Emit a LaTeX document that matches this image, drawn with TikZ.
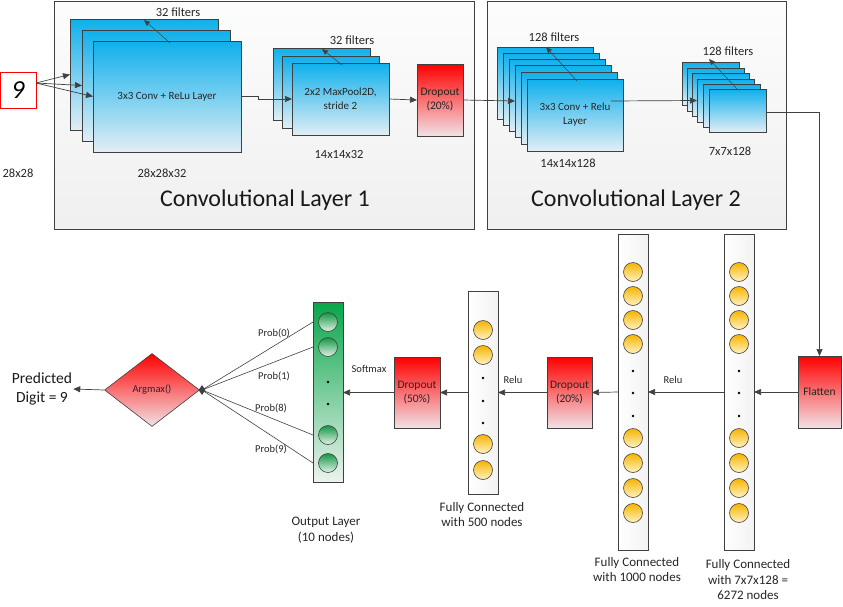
\documentclass[tikz,border=0pt]{standalone}
\usepackage{fontspec}
\setmainfont{Carlito}
\usetikzlibrary{arrows.meta,shapes.geometric,calc}
\definecolor{fmtop}{RGB}{14,176,236}
\definecolor{fmbot}{RGB}{226,238,245}
\definecolor{rdtop}{RGB}{255,0,0}
\definecolor{rdbot}{RGB}{242,226,230}
\definecolor{ortop}{RGB}{246,180,0}
\definecolor{orbot}{RGB}{255,243,195}
\definecolor{grtop}{RGB}{8,166,74}
\definecolor{grbot}{RGB}{236,243,238}
\definecolor{grctop}{RGB}{20,150,70}
\definecolor{grcbot}{RGB}{225,242,230}
\definecolor{edge}{RGB}{64,64,64}
\begin{document}
\begin{tikzpicture}[x=1pt,y=-1pt,
  box/.style={anchor=north west, inner sep=0pt, outer sep=0pt, line width=0.8pt, draw=edge},
  layerbox/.style={box, top color=gray!2, bottom color=gray!12},
  fmap/.style={box, top color=fmtop, bottom color=fmbot, align=center, font={\fontsize{11}{14}\selectfont}, text=black!85},
  redbox/.style={box, top color=rdtop, bottom color=rdbot, align=center, font={\fontsize{11.5}{14}\selectfont}, text=black!85},
  column/.style={box, left color=white, right color=gray!10},
  outcol/.style={box, top color=grtop, bottom color=grbot},
  neuron/.style={circle, draw=edge, line width=0.6pt, minimum size=19pt, inner sep=0pt, top color=ortop, bottom color=orbot},
  gneuron/.style={circle, draw=edge, line width=0.6pt, minimum size=19pt, inner sep=0pt, top color=grctop, bottom color=grcbot},
  dotn/.style={circle, fill=black, minimum size=2.6pt, inner sep=0pt},
  lbl/.style={font={\fontsize{12.5}{15}\selectfont}, text=black!85},
  small/.style={font={\fontsize{10.5}{12}\selectfont}, text=black!85},
  captext/.style={font={\fontsize{13}{15.5}\selectfont}, align=center, text=black!85},
  big/.style={font={\fontsize{24}{28}\selectfont}, text=black!90},
  conn/.style={draw=edge, line width=0.7pt, -{Triangle[length=7pt,width=6pt]}},
  thinarr/.style={draw=edge, line width=0.5pt, -{Triangle[length=6pt,width=5pt]}},
  plain/.style={draw=edge, line width=0.6pt}]
\useasboundingbox (0,0) rectangle (843,606);

% layer boxes
\node[layerbox, minimum width=420pt, minimum height=228pt] (L1) at (54,1) {};
\node[layerbox, minimum width=299pt, minimum height=228pt] (L2) at (487,1) {};
\node[big] (L1t) at (265,200) {Convolutional Layer 1};
\node[big] (L2t) at (636,200) {Convolutional Layer 2};

% input
\node[box, draw=red, fill=white, minimum width=36pt, minimum height=36pt] (in) at (0,72)
  {\fontsize{26}{26}\selectfont\itshape 9};
\node[lbl] (inl) at (18,173) {28x28};

% conv 1
\node[fmap, minimum width=148pt, minimum height=111pt] (c1a) at (70,19) {};
\node[fmap, minimum width=148pt, minimum height=111pt] (c1b) at (82,30) {};
\node[fmap, minimum width=148pt, minimum height=111pt] (c1c) at (93,41) {3x3 Conv + ReLu Layer};
\node[lbl] (c1f) at (178,12) {32 filters};
\node[lbl] (c1d) at (162,173) {28x28x32};
\coordinate (c1s) at (170,43);
\coordinate (c1e) at (144,20);
\draw[thinarr] (c1s) -- (c1e);

% pool 1
\node[fmap, minimum width=97pt, minimum height=72pt] (p1a) at (273,48) {};
\node[fmap, minimum width=97pt, minimum height=72pt] (p1b) at (282,56) {};
\node[fmap, minimum width=97pt, minimum height=72pt] (p1c) at (292,63) {2x2 MaxPool2D,\\stride 2};
\node[lbl] (p1f) at (352,40) {32 filters};
\node[lbl] (p1d) at (339,154) {14x14x32};
\coordinate (p1s) at (342,65);
\coordinate (p1e) at (322,49);
\draw[thinarr] (p1s) -- (p1e);

% dropout 1
\node[redbox, minimum width=46pt, minimum height=72pt] (d1) at (417,64) {Dropout\\(20\%)};

% conv 2
\foreach \n/\x/\y in {c2a/497/47, c2b/503/53, c2c/509/59, c2d/515/65, c2e/521/72}
  \node[fmap, minimum width=96pt, minimum height=72pt] (\n) at (\x,\y) {};
\node[fmap, minimum width=96pt, minimum height=72pt] (c2f) at (527,79) {3x3 Conv + Relu\\Layer};
\node[lbl] (c2l) at (554,37) {128 filters};
\node[lbl] (c2d2) at (568,163) {14x14x128};
\coordinate (c2s) at (577,81);
\coordinate (c2e2) at (546,47);
\draw[thinarr] (c2s) -- (c2e2);

% pool 2
\foreach \n/\x/\y in {p2a/682/62, p2b/687/68, p2c/692/73, p2d/697/79, p2e/703/84, p2f/709/89}
  \node[fmap, minimum width=57pt, minimum height=43pt] (\n) at (\x,\y) {};
\node[lbl] (p2l) at (728,51) {128 filters};
\node[lbl] (p2d2) at (730,151) {7x7x128};
\coordinate (p2s) at (738,90);
\coordinate (p2e2) at (709,59);
\draw[thinarr] (p2s) -- (p2e2);

% top connectors
\draw[conn] ([yshift=7pt]in.east) -- (c1a.west);
\draw[conn] ([yshift=7pt]in.east) -- (c1b.west);
\draw[conn] ([yshift=7pt]in.east) -- (c1c.west);
\draw[conn] (c1c.east) -- ++(17,0) |- (p1c.west);
\draw[conn] (p1c.east) -- (d1.west);
\draw[conn] (d1.east) -- (c2d.west);
\draw[conn] (c2d.east) -- (p2d.west);

% flatten
\node[redbox, minimum width=43pt, minimum height=72pt] (flat) at (798,356) {Flatten};
\draw[conn] ([yshift=-1.5pt]p2f.east) -| (flat.north);

% FC 6272
\node[column, minimum width=30pt, minimum height=316pt] (fcA) at (724,234) {};
\foreach \y [count=\i] in {272,296,320,344,438,463,488,513}
  \node[neuron] (a\i) at (739,\y) {};
\foreach \y [count=\i] in {371,393,416}
  \node[dotn] (ad\i) at (739,\y) {};
\node[captext] (fcAl) at (748,580) {Fully Connected\\with 7x7x128 =\\6272 nodes};

% FC 1000
\node[column, minimum width=30pt, minimum height=316pt] (fcB) at (618,234) {};
\foreach \y [count=\i] in {272,296,320,344,438,463,488,513}
  \node[neuron] (b\i) at (633,\y) {};
\foreach \y [count=\i] in {371,393,416}
  \node[dotn] (bd\i) at (633,\y) {};
\node[captext] (fcBl) at (637,569.5) {Fully Connected\\with 1000 nodes};

% dropout 20
\node[redbox, minimum width=45pt, minimum height=71pt] (d2) at (547,357) {Dropout\\(20\%)};

% FC 500
\node[column, minimum width=30pt, minimum height=203pt] (fcC) at (468,291) {};
\foreach \y [count=\i] in {330,355,444,470}
  \node[neuron] (c\i) at (483,\y) {};
\foreach \y [count=\i] in {378,401,423}
  \node[dotn] (cd\i) at (483,\y) {};
\node[captext] (fcCl) at (482,514.5) {Fully Connected\\with 500 nodes};

% dropout 50
\node[redbox, minimum width=46pt, minimum height=71pt] (d3) at (394,357) {Dropout\\(50\%)};

% output layer
\node[outcol, minimum width=30pt, minimum height=180pt] (out) at (313,302) {};
\foreach \y [count=\i] in {322,347,435,463}
  \node[gneuron] (o\i) at (328,\y) {};
\foreach \y [count=\i] in {382,404}
  \node[dotn] (od\i) at (328,\y) {};
\node[captext] (outl) at (326,530) {Output Layer\\(10 nodes)};

% bottom connectors
\draw[conn] (flat.west) -- (fcA.east |- flat.west);
\draw[conn] (fcA.west |- flat.west) -- (fcB.east |- flat.west);
\node[small] (relu1) at (673,380) {Relu};
\draw[conn] (fcB.west |- flat.west) -- (d2.east);
\draw[conn] (d2.west) -- (fcC.east |- d2.west);
\node[small] (relu2) at (513,380) {Relu};
\draw[conn] (fcC.west |- d2.west) -- (d3.east);
\draw[conn] (d3.west) -- (out.east |- d3.west);
\node[small] (soft) at (369,369) {Softmax};

% argmax
\node[diamond, draw=edge, line width=0.6pt, minimum width=95pt, minimum height=73pt, inner sep=0pt,
  top color=rdtop, bottom color=rdbot, font={\fontsize{10.5}{12}\selectfont}, text=black!85] (am) at (152,390) {Argmax()};
\node[diamond, fill=edge, minimum width=7pt, minimum height=10pt, inner sep=0pt] (amk) at (202,390) {};
\foreach \i in {1,2,3,4}
  \draw[plain] (o\i -| out.west) -- (amk.center);
\node[small] (pr0) at (274,333) {Prob(0)};
\node[small] (pr1) at (274,376) {Prob(1)};
\node[small] (pr8) at (271,408) {Prob(8)};
\node[small] (pr9) at (271,449) {Prob(9)};

\node[font={\fontsize{15.5}{19}\selectfont}, align=center, text=black!90, inner sep=1pt] (pred) at (42,389) {Predicted\\Digit = 9};
\draw[conn] (am.west) -- (pred.east);
\end{tikzpicture}
\end{document}
